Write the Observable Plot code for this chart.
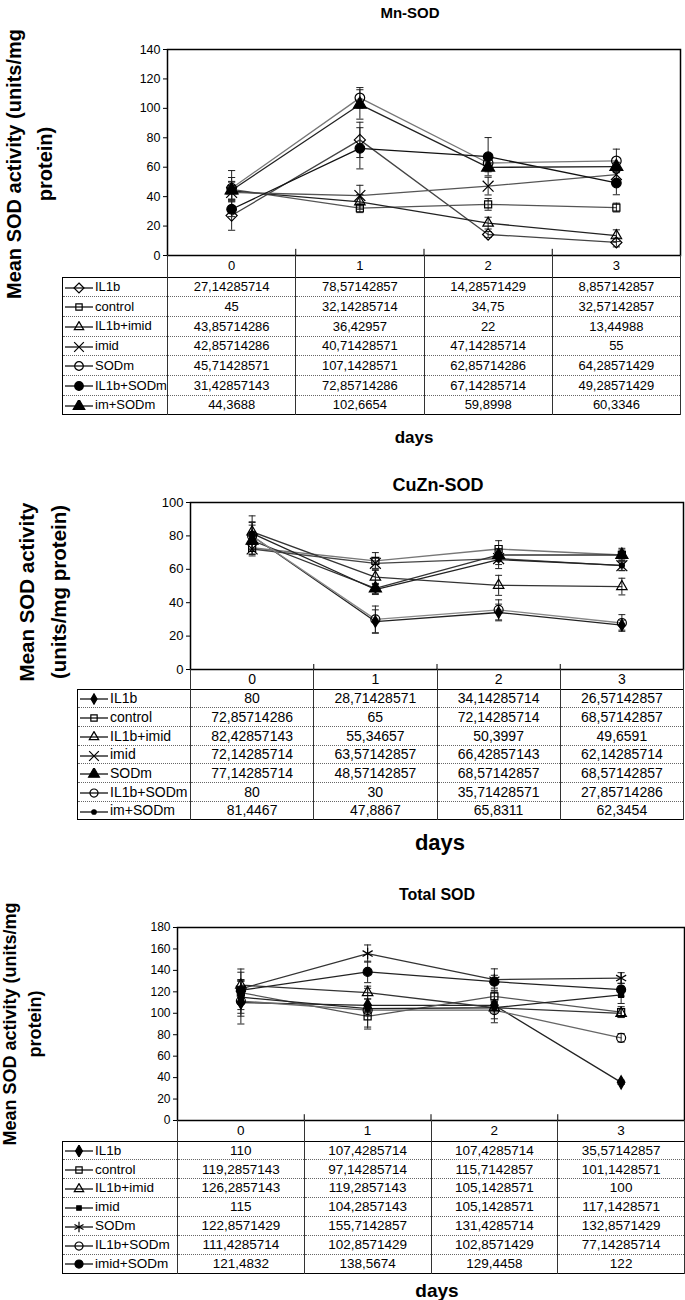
<!DOCTYPE html>
<html><head><meta charset="utf-8">
<script src="https://cdn.jsdelivr.net/npm/d3@7"></script>
<script src="https://cdn.jsdelivr.net/npm/@observablehq/plot@0.6"></script>
<style>
body{margin:0;background:#fff;}
#root{position:relative;width:685px;height:1300px;overflow:hidden;font-family:"Liberation Sans",Arial,sans-serif;color:#000;background:#fff;}
.lbl{position:absolute;white-space:nowrap;font-weight:bold;transform:translate(-50%,-50%);line-height:1;}
.ylbl{position:absolute;white-space:nowrap;font-weight:bold;transform:translate(-50%,-50%) rotate(-90deg);line-height:1;}
.plotbox{position:absolute;left:0;}
table.dt{position:absolute;border-collapse:collapse;table-layout:fixed;border:1px solid #000;}
table.dt td{padding:0;line-height:1;text-align:center;white-space:nowrap;border-left:1px solid #333;border-right:1px solid #333;border-top:1px dotted #666;border-bottom:1px dotted #666;overflow:hidden;}
table.dt td.leg{text-align:left;padding-left:1px;}
table.dt tr.head td{border-top:none;}
table.dt tr.head td.blank{border:none;}
table.dt tr.first td{border-top:1px solid #000;}
</style></head>
<body><div id="root"></div>
<script>
// ---------- data ----------
const days = [0, 1, 2, 3];
const dayLabels = ["0", "1", "2", "3"];

// Mn-SOD
const mnSeries = ["IL1b", "control", "IL1b+imid", "imid", "SODm", "IL1b+SODm", "im+SODm"];
const mnValues = [
  [27.14285714, 78.57142857, 14.28571429, 8.857142857],
  [45, 32.14285714, 34.75, 32.57142857],
  [43.85714286, 36.42957, 22, 13.44988],
  [42.85714286, 40.71428571, 47.14285714, 55],
  [45.71428571, 107.1428571, 62.85714286, 64.28571429],
  [31.42857143, 72.85714286, 67.14285714, 49.28571429],
  [44.3688, 102.6654, 59.8998, 60.3346]
];
const mnErrors = [
  [10, 12, 2, 3],
  [8, 3, 4, 3],
  [6, 5, 4, 4],
  [5, 7, 6, 4],
  [12, 7, 4, 8],
  [5, 14, 13, 8],
  [6, 10, 3, 3]
];

// CuZn-SOD
const cuSeries = ["IL1b", "control", "IL1b+imid", "imid", "SODm", "IL1b+SODm", "im+SODm"];
const cuValues = [
  [80, 28.71428571, 34.14285714, 26.57142857],
  [72.85714286, 65, 72.14285714, 68.57142857],
  [82.42857143, 55.34657, 50.3997, 49.6591],
  [72.14285714, 63.57142857, 66.42857143, 62.14285714],
  [77.14285714, 48.57142857, 68.57142857, 68.57142857],
  [80, 30, 35.71428571, 27.85714286],
  [81.4467, 47.8867, 65.8311, 62.3454]
];
const cuErrors = [
  [12, 7, 5, 3],
  [4, 5, 5, 3],
  [6, 4, 6, 5],
  [3, 3, 6, 3],
  [5, 3, 3, 4],
  [8, 8, 6, 5],
  [5, 3, 3, 3]
];

// Total SOD
const totSeries = ["IL1b", "control", "IL1b+imid", "imid", "SODm", "IL1b+SODm", "imid+SODm"];
const totValues = [
  [110, 107.4285714, 107.4285714, 35.57142857],
  [119.2857143, 97.14285714, 115.7142857, 101.1428571],
  [126.2857143, 119.2857143, 105.1428571, 100],
  [115, 104.2857143, 105.1428571, 117.1428571],
  [122.8571429, 155.7142857, 131.4285714, 132.8571429],
  [111.4285714, 102.8571429, 102.8571429, 77.14285714],
  [121.4832, 138.5674, 129.4458, 122]
];
const totErrors = [
  [20, 6, 5, 2],
  [22, 10, 5, 5],
  [12, 6, 5, 4],
  [15, 19, 14, 8],
  [8, 8, 10, 5],
  [8, 5, 8, 4],
  [10, 10, 6, 6]
];

// ---------- styles ----------
const mnStyle = [
  {symbol: "diamond2", fill: "none", r: 5, line: "#444"},
  {symbol: "square2", fill: "none", r: 4.5, line: "#555"},
  {symbol: "triangle2", fill: "none", r: 5, line: "#222"},
  {symbol: "times", fill: "none", r: 5, line: "#555"},
  {symbol: "circle", fill: "none", r: 4.8, line: "#777"},
  {symbol: "circle", fill: "#000", r: 4.8, line: "#111"},
  {symbol: "triangle", fill: "#000", r: 4.8, line: "#222"}
];
const cuStyle = [
  {symbol: "diamond", fill: "#000", r: 3.5, line: "#222"},
  {symbol: "square2", fill: "none", r: 4.5, line: "#777"},
  {symbol: "triangle2", fill: "none", r: 5, line: "#333"},
  {symbol: "times", fill: "none", r: 5, line: "#444"},
  {symbol: "triangle", fill: "#000", r: 4.5, line: "#333"},
  {symbol: "circle", fill: "none", r: 4.5, line: "#888"},
  {symbol: "circle", fill: "#000", r: 2.5, line: "#222"}
];
const totStyle = [
  {symbol: "diamond", fill: "#000", r: 4, line: "#222"},
  {symbol: "square2", fill: "none", r: 4.5, line: "#555"},
  {symbol: "triangle2", fill: "none", r: 5, line: "#333"},
  {symbol: "square", fill: "#000", r: 2.8, line: "#222"},
  {symbol: "asterisk", fill: "none", r: 5.5, line: "#333"},
  {symbol: "circle", fill: "none", r: 4.5, line: "#666"},
  {symbol: "circle", fill: "#000", r: 4.5, line: "#222"}
];

const panels = [
  {title: "Mn-SOD", titleX: 410, titleY: 12, titleSize: 15,
   ylab: ["Mean SOD activity (units/mg", "protein)"], ylabX: [14, 45], ylabY: 164, ylabSize: 20,
   frame: {l: 167, r: 680, t: 49, b: 255}, ymax: 140, nt: 7, tickFont: 12.5,
   table: {left: 62, headH: 22, rowH: 19.7, font: 13},
   daysLbl: {x: 414, y: 437, size: 17},
   series: mnSeries, values: mnValues, errors: mnErrors, style: mnStyle},
  {title: "CuZn-SOD", titleX: 438, titleY: 485, titleSize: 18,
   ylab: ["Mean SOD activity", "(units/mg protein)"], ylabX: [27, 59], ylabY: 592, ylabSize: 20.5,
   frame: {l: 190, r: 683, t: 502, b: 669}, ymax: 100, nt: 5, tickFont: 13,
   table: {left: 77, headH: 20, rowH: 18.7, font: 14},
   daysLbl: {x: 440, y: 843, size: 22},
   series: cuSeries, values: cuValues, errors: cuErrors, style: cuStyle},
  {title: "Total SOD", titleX: 437, titleY: 895, titleSize: 16,
   ylab: ["Mean SOD activity (units/mg", "protein)"], ylabX: [10, 35], ylabY: 1024, ylabSize: 18,
   frame: {l: 177, r: 684, t: 927, b: 1120}, ymax: 180, nt: 9, tickFont: 12,
   table: {left: 62, headH: 21, rowH: 18.9, font: 13.5},
   daysLbl: {x: 437, y: 1290, size: 19},
   series: totSeries, values: totValues, errors: totErrors, style: totStyle}
];

const symMap = {
  circle: d3.symbolCircle, diamond: d3.symbolDiamond, diamond2: d3.symbolDiamond2 || d3.symbolDiamond,
  square: d3.symbolSquare, square2: d3.symbolSquare2 || d3.symbolSquare,
  triangle: d3.symbolTriangle, triangle2: d3.symbolTriangle2 || d3.symbolTriangle,
  times: d3.symbolTimes || d3.symbolCross, asterisk: d3.symbolAsterisk || d3.symbolStar
};

const fmt = v => String(v).replace(".", ",");
const root = document.getElementById("root");

function addLabel(text, x, y, size, cls) {
  const d = document.createElement("div");
  d.className = cls;
  d.style.left = x + "px";
  d.style.top = y + "px";
  d.style.fontSize = size + "px";
  d.textContent = text;
  root.appendChild(d);
}

function swatch(st) {
  const w = 30, h = 12;
  const svg = d3.create("svg").attr("width", w).attr("height", h)
    .style("vertical-align", "middle").style("margin-right", "1px");
  svg.append("line").attr("x1", 1).attr("x2", w - 1).attr("y1", h / 2).attr("y2", h / 2)
    .attr("stroke", "#000").attr("stroke-width", 1.2);
  svg.append("path").attr("transform", `translate(${w / 2},${h / 2})`)
    .attr("d", d3.symbol(symMap[st.symbol], Math.PI * st.r * st.r * 0.8)())
    .attr("fill", st.fill).attr("stroke", "#000").attr("stroke-width", 1.2);
  return svg.node();
}

panels.forEach(p => {
  addLabel(p.title, p.titleX, p.titleY, p.titleSize, "lbl");
  p.ylab.forEach((t, i) => addLabel(t, p.ylabX[i], p.ylabY, p.ylabSize, "ylbl"));
  addLabel("days", p.daysLbl.x, p.daysLbl.y, p.daysLbl.size, "lbl");

  const rows = [];
  p.series.forEach((s, i) => days.forEach((d, j) => rows.push({series: s, idx: i, day: d, value: p.values[i][j], err: p.errors[i][j]})));

  const top = p.frame.t - 10;
  const marks = [];
  marks.push(Plot.ruleX(days.slice(1).map(d => d - 0.5), {y1: 0, y2: p.ymax * 0.03, stroke: "#000"}));
  p.series.forEach((s, i) => {
    const st = p.style[i];
    const data = rows.filter(r => r.idx === i);
    marks.push(Plot.line(data, {x: "day", y: "value", stroke: st.line, strokeWidth: 1.3}));
  });
  marks.push(Plot.ruleX(rows, {x: "day", y1: r => r.value - r.err, y2: r => r.value + r.err, stroke: "#222", strokeWidth: 1}));
  marks.push(Plot.link(rows, {x1: r => r.day - 0.028, x2: r => r.day + 0.028, y1: r => r.value + r.err, y2: r => r.value + r.err, stroke: "#222"}));
  marks.push(Plot.link(rows, {x1: r => r.day - 0.028, x2: r => r.day + 0.028, y1: r => r.value - r.err, y2: r => r.value - r.err, stroke: "#222"}));
  p.series.forEach((s, i) => {
    const st = p.style[i];
    const data = rows.filter(r => r.idx === i);
    marks.push(Plot.dot(data, {x: "day", y: "value", symbol: st.symbol, r: st.r, fill: st.fill, stroke: "#000", strokeWidth: 1.2}));
  });
  marks.push(Plot.frame({stroke: "#000", strokeWidth: 1.5}));

  const chart = Plot.plot({
    width: 685,
    height: p.frame.b - top + 2,
    marginLeft: p.frame.l,
    marginRight: 685 - p.frame.r,
    marginTop: p.frame.t - top,
    marginBottom: 2,
    x: {domain: [-0.5, 3.5], axis: null},
    y: {domain: [0, p.ymax], ticks: p.nt, tickSize: 4, tickPadding: 3, label: null},
    style: {fontFamily: '"Liberation Sans", Arial, sans-serif', fontSize: p.tickFont + "px", color: "#000", background: "transparent", overflow: "visible"},
    marks
  });
  const box = document.createElement("div");
  box.className = "plotbox";
  box.style.top = top + "px";
  box.appendChild(chart);
  root.appendChild(box);

  // data table
  const colW = (p.frame.r - p.frame.l) / 4;
  const legW = p.frame.l - p.table.left;
  const table = document.createElement("table");
  table.className = "dt";
  table.style.left = p.table.left + "px";
  table.style.top = p.frame.b + "px";
  table.style.width = (p.frame.r - p.table.left) + "px";
  table.style.fontSize = p.table.font + "px";
  table.style.borderLeft = "none";
  table.style.borderTop = "none";
  const cg = document.createElement("colgroup");
  [legW, colW, colW, colW, colW].forEach(w => {
    const c = document.createElement("col");
    c.style.width = w + "px";
    cg.appendChild(c);
  });
  table.appendChild(cg);
  const head = document.createElement("tr");
  head.className = "head";
  head.style.height = p.table.headH + "px";
  const blank = document.createElement("td");
  blank.className = "blank";
  head.appendChild(blank);
  dayLabels.forEach(l => {
    const td = document.createElement("td");
    td.textContent = l;
    head.appendChild(td);
  });
  table.appendChild(head);
  p.series.forEach((s, i) => {
    const tr = document.createElement("tr");
    if (i === 0) tr.className = "first";
    tr.style.height = p.table.rowH + "px";
    const lg = document.createElement("td");
    lg.className = "leg";
    lg.style.borderLeft = "1px solid #000";
    lg.appendChild(swatch(p.style[i]));
    lg.appendChild(document.createTextNode(s));
    tr.appendChild(lg);
    p.values[i].forEach(v => {
      const td = document.createElement("td");
      td.textContent = fmt(v);
      tr.appendChild(td);
    });
    table.appendChild(tr);
  });
  root.appendChild(table);
});
</script>
</body></html>
